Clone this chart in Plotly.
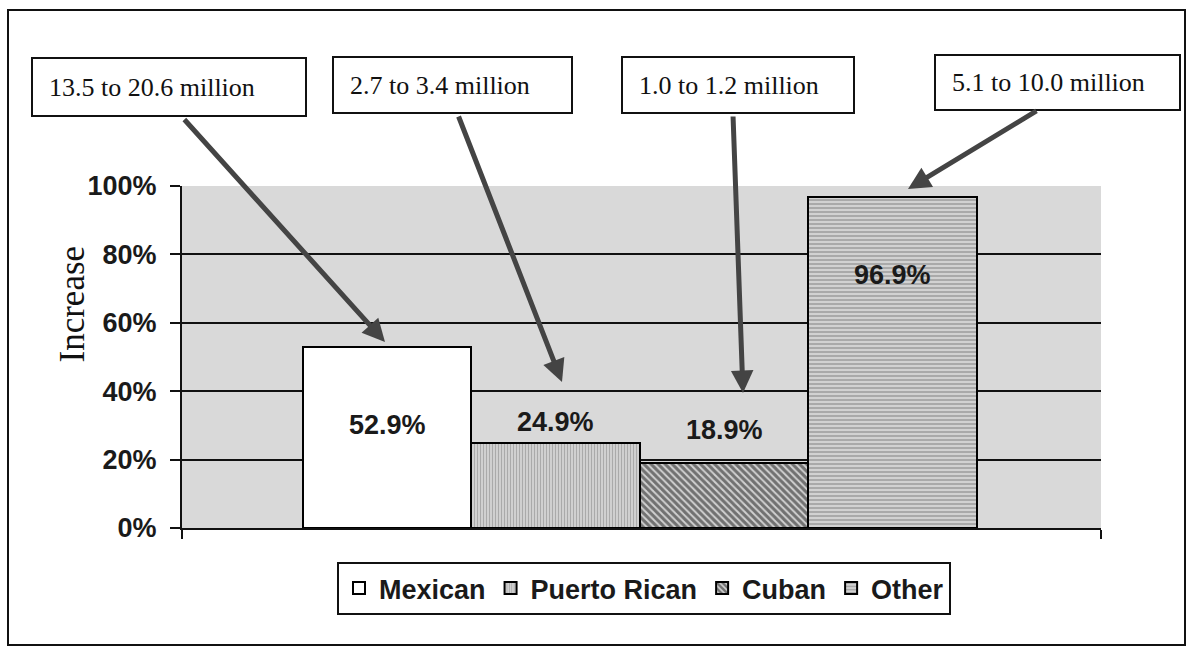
import plotly.graph_objects as go

# ---- data ----
categories = ["Mexican", "Puerto Rican", "Cuban", "Other"]
increase_pct = [52.9, 24.9, 18.9, 96.9]
pop_ranges = ["13.5 to 20.6 million", "2.7 to 3.4 million", "1.0 to 1.2 million", "5.1 to 10.0 million"]
y_ticks = [0, 0.2, 0.4, 0.6, 0.8, 1.0]

# ---- styling / layout helpers (not data) ----
W, H = 1193, 653
PL, PR, PT, PB = 182, 1101, 186, 528          # plot area in pixels
XMIN, XMAX = -1.218, 4.236                      # x range so bars sit like the original
YMIN, YMAX = 0.0, 1.0

def px_to_x(px):
    return XMIN + (px - PL) / (PR - PL) * (XMAX - XMIN)

def py_to_y(py):
    return YMIN + (PB - py) / (PB - PT) * (YMAX - YMIN)

def px_to_paper(px):
    return (px - PL) / (PR - PL)

def py_to_paper(py):
    return (PB - py) / (PB - PT)

bar_styles = [
    dict(color="white", pattern=dict(shape="")),
    dict(color="#cfcfcf", pattern=dict(shape="|", fgcolor="#808080", bgcolor="#d4d4d4", size=3, solidity=0.4)),
    dict(color="#bbbbbb", pattern=dict(shape="\\", fgcolor="#111111", bgcolor="#d0d0d0", size=5, solidity=0.6)),
    dict(color="#c8c8c8", pattern=dict(shape="-", fgcolor="#6e6e6e", bgcolor="#d2d2d2", size=4, solidity=0.4)),
]
label_y = [0.30, 0.31, 0.287, 0.74]             # data-label vertical placement
boxes = [  # (left, top, right, bottom) pixels of callout boxes
    (32, 58, 306, 116),
    (333, 57, 572, 113),
    (622, 57, 854, 113),
    (935, 55, 1180, 110),
]
arrow_tail = [(183, 118), (458, 115), (733, 115), (1038, 110)]
arrow_tip = [(385, 342), (562, 382), (743, 393), (908, 189)]

fig = go.Figure()
for i, (cat, val) in enumerate(zip(categories, increase_pct)):
    st = bar_styles[i]
    fig.add_trace(go.Bar(
        x=[i], y=[val / 100], name=cat, width=1.0,
        marker=dict(color=st["color"], pattern=st["pattern"],
                    line=dict(color="black", width=2)),
        hoverinfo="skip",
    ))

annotations = []
# data labels
for i, val in enumerate(increase_pct):
    annotations.append(dict(
        x=i, y=label_y[i], xref="x", yref="y", text=f"{val:.1f}%",
        showarrow=False, font=dict(family="Liberation Sans", size=27, color="#1a1a1a", weight="bold"),
    ))
# callout text
for (l, t, r, b), txt in zip(boxes, pop_ranges):
    annotations.append(dict(
        x=px_to_paper(l + 15), y=py_to_paper((t + b) / 2), xref="paper", yref="paper",
        xanchor="left", yanchor="middle", text=txt, showarrow=False,
        font=dict(family="Liberation Serif", size=26, color="#111"),
    ))
# arrows
for (tx, ty), (hx, hy) in zip(arrow_tail, arrow_tip):
    annotations.append(dict(
        x=px_to_x(hx), y=py_to_y(hy), xref="x", yref="y",
        ax=px_to_x(tx), ay=py_to_y(ty), axref="x", ayref="y",
        text="", showarrow=True, arrowhead=2, arrowsize=0.9, arrowwidth=5,
        arrowcolor="#444444", standoff=0, startstandoff=0,
    ))
# y axis title
annotations.append(dict(
    x=px_to_paper(50), y=py_to_paper(304), xref="paper", yref="paper",
    text="Increase", textangle=-90, showarrow=False,
    font=dict(family="Liberation Serif", size=35, color="#111"),
))

shapes = []
for (l, t, r, b) in boxes:
    shapes.append(dict(type="rect", xref="paper", yref="paper",
                       x0=px_to_paper(l), x1=px_to_paper(r), y0=py_to_paper(b), y1=py_to_paper(t),
                       line=dict(color="#111", width=2), fillcolor="white", layer="above"))
# outer frame
shapes.append(dict(type="rect", xref="paper", yref="paper",
                   x0=px_to_paper(8), x1=px_to_paper(1185), y0=py_to_paper(645), y1=py_to_paper(10),
                   line=dict(color="#111", width=2), fillcolor="rgba(0,0,0,0)", layer="below"))

fig.update_layout(
    width=W, height=H,
    margin=dict(l=PL, r=W - PR, t=PT, b=H - PB, pad=0),
    paper_bgcolor="white", plot_bgcolor="#d9d9d9",
    barmode="overlay", bargap=0,
    showlegend=True,
    legend=dict(orientation="h", x=px_to_paper(644), xanchor="center",
                y=py_to_paper(562), yanchor="top",
                bordercolor="#111", borderwidth=2, bgcolor="white",
                font=dict(family="Liberation Sans", size=27, color="#1a1a1a", weight="bold"),
                itemwidth=30, tracegroupgap=0),
    xaxis=dict(range=[XMIN, XMAX], showgrid=False, zeroline=False,
               tickvals=[XMIN, XMAX], ticktext=["", ""], ticks="outside", ticklen=9,
               tickcolor="#111", tickwidth=2,
               showline=True, linecolor="#111", linewidth=2, fixedrange=True),
    yaxis=dict(range=[YMIN, YMAX], tickvals=y_ticks, tickformat=".0%",
               showgrid=True, gridcolor="#111", gridwidth=2, zeroline=False,
               ticks="outside", ticklen=10, tickcolor="#111", tickwidth=2,
               showline=True, linecolor="#111", linewidth=2, ticklabelstandoff=8,
               tickfont=dict(family="Liberation Sans", size=27, color="#1a1a1a", weight="bold"),
               fixedrange=True),
    annotations=annotations,
    shapes=shapes,
)

fig.write_html("out.html")
